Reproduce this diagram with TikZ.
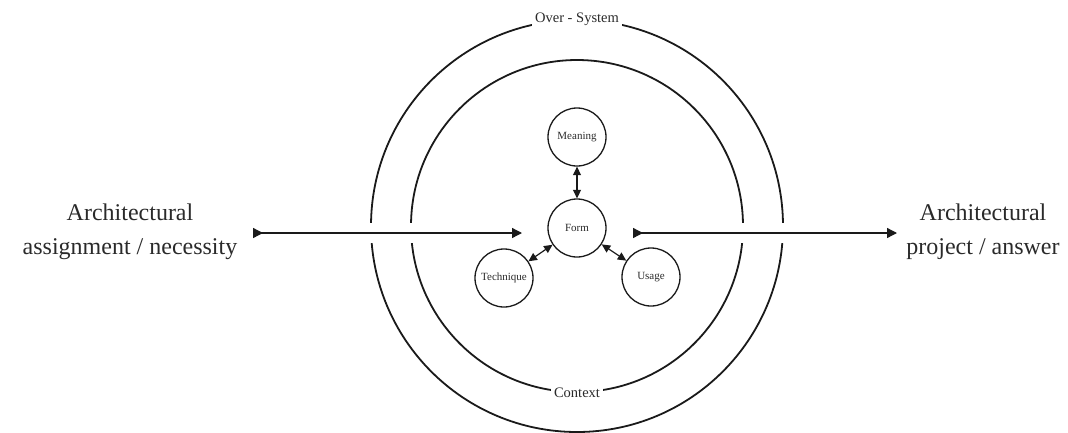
\documentclass[tikz,border=0pt]{standalone}
\usepackage{fontspec}
\setmainfont{Liberation Serif}
\usetikzlibrary{arrows.meta}
\definecolor{ink}{HTML}{1A1A1A}
\definecolor{txt}{HTML}{2A2A2A}
\tikzset{
  ring/.style={circle, draw=ink, line width=1.8pt, inner sep=0pt},
  smallc/.style={circle, draw=ink, line width=1.3pt, minimum size=58pt, inner sep=0pt, font=\fontsize{11}{13}\selectfont, text=txt},
  ringlabel/.style={fill=white, inner sep=3pt, text=txt, font=\fontsize{14.5}{16}\selectfont},
  bigtext/.style={align=center, text=txt, font=\fontsize{24}{34}\selectfont},
  mainarrow/.style={draw=ink, line width=1.3pt, {Triangle[reversed,length=10pt,width=10pt]}-{Triangle[length=10pt,width=10pt]}},
  gap/.style={draw=white, line width=20pt},
  link/.style={draw=ink, line width=1.2pt, {Triangle[length=8.5pt,width=8pt]}-{Triangle[length=8.5pt,width=8pt]}}
}
\begin{document}
\begin{tikzpicture}[x=1pt,y=-1pt]
\useasboundingbox (0,0) rectangle (1068,432);
% rings
\node[ring, minimum size=412pt] (outer) at (577,226) {};
\node[ring, minimum size=332pt] (inner) at (577,226) {};
\node[ringlabel] (over) at (outer.north) {Over - System};
\node[ringlabel] (ctx) at (inner.south) {Context};
% side texts
\node[bigtext] (lt) at (130,232) {Architectural\\assignment / necessity};
\node[bigtext] (rt) at (983,232) {Architectural\\project / answer};
% small circles
\node[smallc] (form) at (577,228) {Form};
\node[smallc] (meaning) at (577,137) {Meaning};
\node[smallc] (tech) at (504,278) {Technique};
\node[smallc] (usage) at (651,277) {Usage};
% main arrows
\coordinate (la) at (253,233);
\coordinate (lb) at (522,233);
\coordinate (ra) at (633,233);
\coordinate (rb) at (897,233);
\draw[gap] (la) -- (lb);
\draw[gap] (ra) -- (rb);
\draw[mainarrow] (la) -- (lb);
\draw[mainarrow] (ra) -- (rb);
% links
\draw[link] (meaning) -- (form);
\draw[link] (tech) -- (form);
\draw[link] (usage) -- (form);
\end{tikzpicture}
\end{document}
